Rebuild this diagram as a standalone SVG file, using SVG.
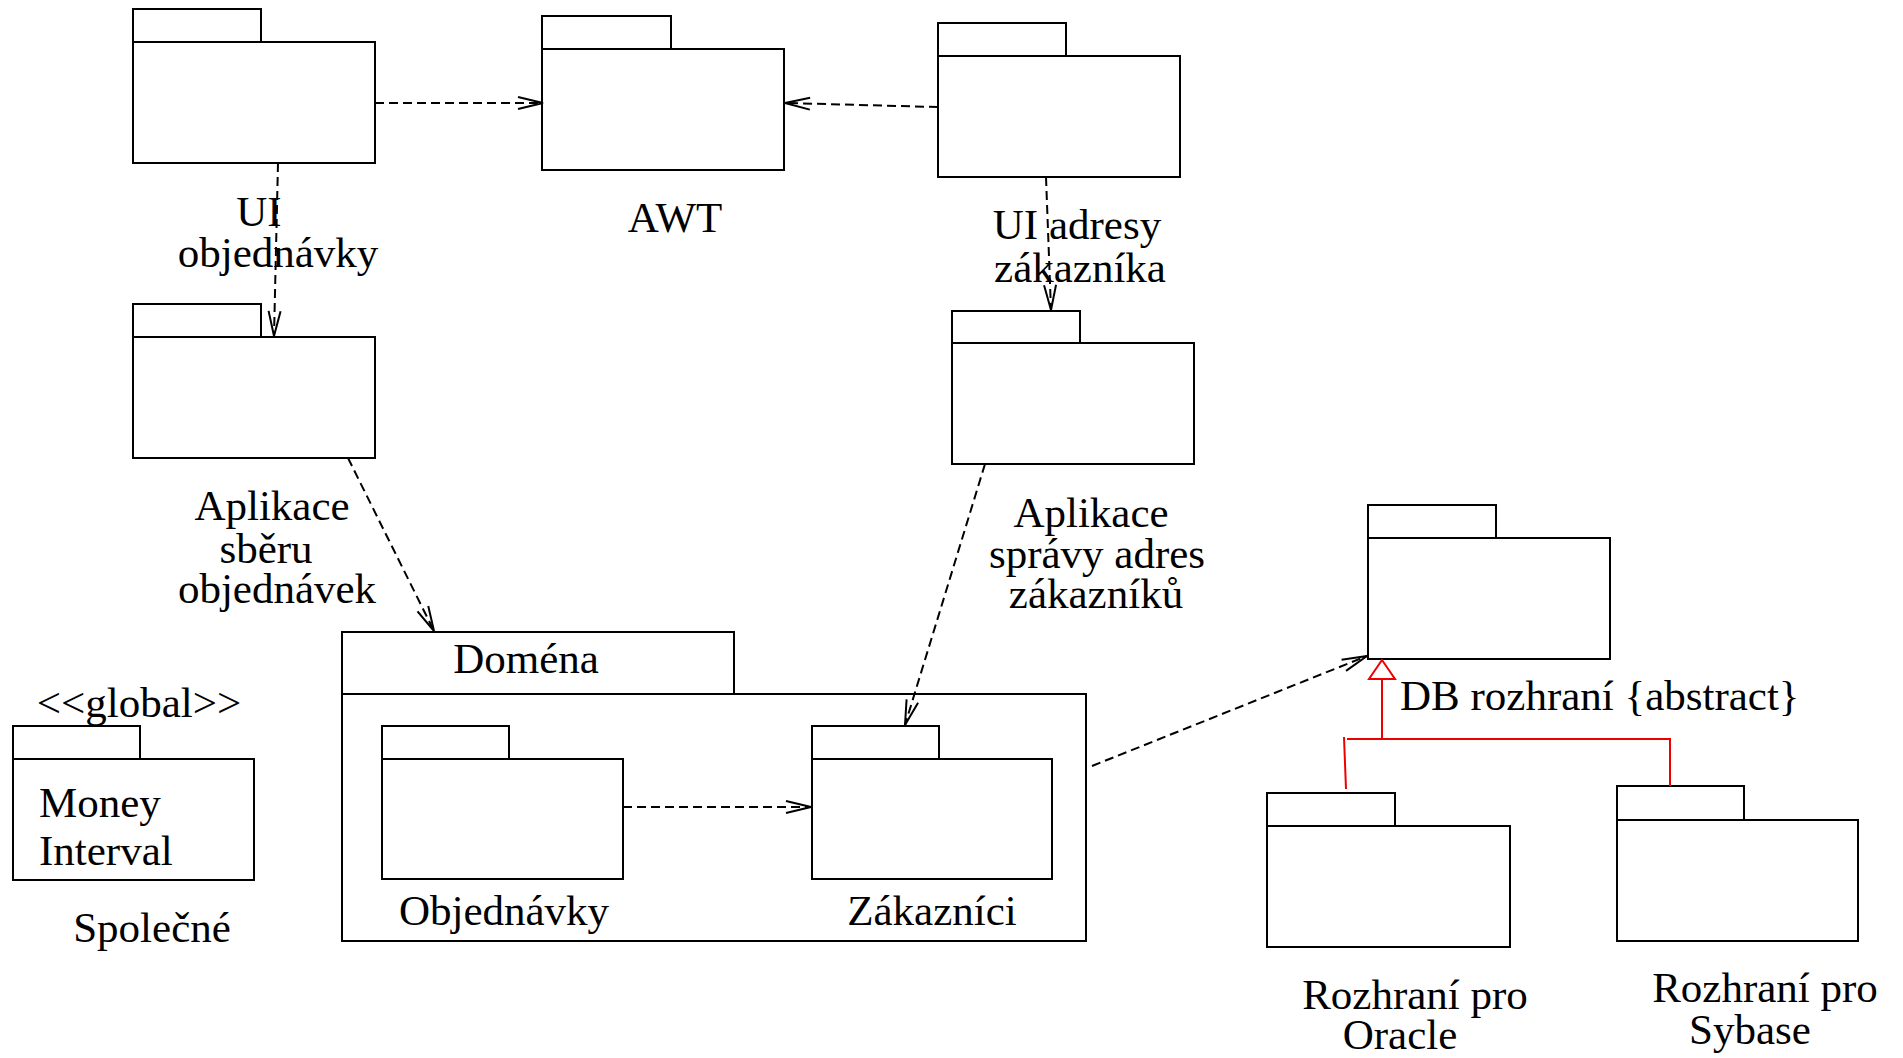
<svg xmlns="http://www.w3.org/2000/svg" width="1903" height="1058" viewBox="0 0 1903 1058">
<style>
.pk{fill:#fff;stroke:#000;stroke-width:2}
.t{font-family:"Liberation Serif","Times New Roman",serif;font-size:43px;fill:#000}
.m{text-anchor:middle}
.dep{fill:none;stroke:#000;stroke-width:2;stroke-dasharray:9,5;marker-end:url(#open)}
.gen{fill:none;stroke:#e00;stroke-width:2}
</style>
<defs>
<marker id="open" markerUnits="userSpaceOnUse" viewBox="-1 -8 28 16" refX="25" refY="0" markerWidth="28" markerHeight="16" orient="auto">
<path d="M0,-6 L25,0 L0,6" fill="none" stroke="#000" stroke-width="2"/>
</marker>
</defs>
<rect width="1903" height="1058" fill="#fff"/>
<g id="ui-objednavky">
<rect class="pk" x="133" y="9" width="128" height="33"/>
<rect class="pk" x="133" y="42" width="242" height="121"/>
<text class="t m" x="259" y="226">UI</text>
<text class="t m" x="278" y="267">objednávky</text>
</g>
<g id="awt">
<rect class="pk" x="542" y="16" width="129" height="33"/>
<rect class="pk" x="542" y="49" width="242" height="121"/>
<text class="t m" x="675" y="232">AWT</text>
</g>
<g id="ui-adresy">
<rect class="pk" x="938" y="23" width="128" height="33"/>
<rect class="pk" x="938" y="56" width="242" height="121"/>
<text class="t m" x="1077" y="239">UI adresy</text>
<text class="t m" x="1080" y="282">zákazníka</text>
</g>
<g id="aplikace-sberu">
<rect class="pk" x="133" y="304" width="128" height="33"/>
<rect class="pk" x="133" y="337" width="242" height="121"/>
<text class="t m" x="272" y="520">Aplikace</text>
<text class="t m" x="266" y="563">sběru</text>
<text class="t m" x="277" y="603">objednávek</text>
</g>
<g id="aplikace-spravy">
<rect class="pk" x="952" y="311" width="128" height="32"/>
<rect class="pk" x="952" y="343" width="242" height="121"/>
<text class="t m" x="1091" y="527">Aplikace</text>
<text class="t m" x="1097" y="568">správy adres</text>
<text class="t m" x="1096" y="608">zákazníků</text>
</g>
<g id="spolecne">
<text class="t m" x="139" y="717">&lt;&lt;global&gt;&gt;</text>
<rect class="pk" x="13" y="726" width="127" height="33"/>
<rect class="pk" x="13" y="759" width="241" height="121"/>
<text class="t" x="39" y="817">Money</text>
<text class="t" x="39" y="865">Interval</text>
<text class="t m" x="152" y="942">Společné</text>
</g>
<g id="domena">
<rect class="pk" x="342" y="632" width="392" height="62"/>
<rect class="pk" x="342" y="694" width="744" height="247"/>
<text class="t m" x="526" y="673">Doména</text>
<g id="objednavky">
<rect class="pk" x="382" y="726" width="127" height="33"/>
<rect class="pk" x="382" y="759" width="241" height="120"/>
<text class="t m" x="504" y="925">Objednávky</text>
</g>
<g id="zakaznici">
<rect class="pk" x="812" y="726" width="127" height="33"/>
<rect class="pk" x="812" y="759" width="240" height="120"/>
<text class="t m" x="932" y="925">Zákazníci</text>
</g>
</g>
<g id="db-rozhrani">
<rect class="pk" x="1368" y="505" width="128" height="33"/>
<rect class="pk" x="1368" y="538" width="242" height="121"/>
<text class="t" x="1400" y="710">DB rozhraní {abstract}</text>
</g>
<g id="oracle">
<rect class="pk" x="1267" y="793" width="128" height="33"/>
<rect class="pk" x="1267" y="826" width="243" height="121"/>
<text class="t m" x="1415" y="1009">Rozhraní pro</text>
<text class="t m" x="1400" y="1049">Oracle</text>
</g>
<g id="sybase">
<rect class="pk" x="1617" y="786" width="127" height="34"/>
<rect class="pk" x="1617" y="820" width="241" height="121"/>
<text class="t m" x="1765" y="1002">Rozhraní pro</text>
<text class="t m" x="1750" y="1044">Sybase</text>
</g>
<g id="connectors">
<path class="dep" d="M375,103 L543,103"/>
<path class="dep" d="M938,107 L785,103"/>
<path class="dep" d="M278,163 L274,336"/>
<path class="dep" d="M1046,177 L1051,310"/>
<path class="dep" d="M348,458 L434,631"/>
<path class="dep" d="M985,464 L905,725"/>
<path class="dep" d="M623,807 L811,807"/>
<path class="dep" d="M1092,766 L1367,656"/>
<path class="gen" d="M1346,789 L1344,737"/>
<path class="gen" d="M1347,739 L1670,739 L1670,786"/>
<path class="gen" d="M1382,739 L1382,679"/>
<path class="gen" fill="#fff" style="fill:#fff" d="M1382,660 L1395,679 L1369,679 Z"/>
</g>
</svg>
